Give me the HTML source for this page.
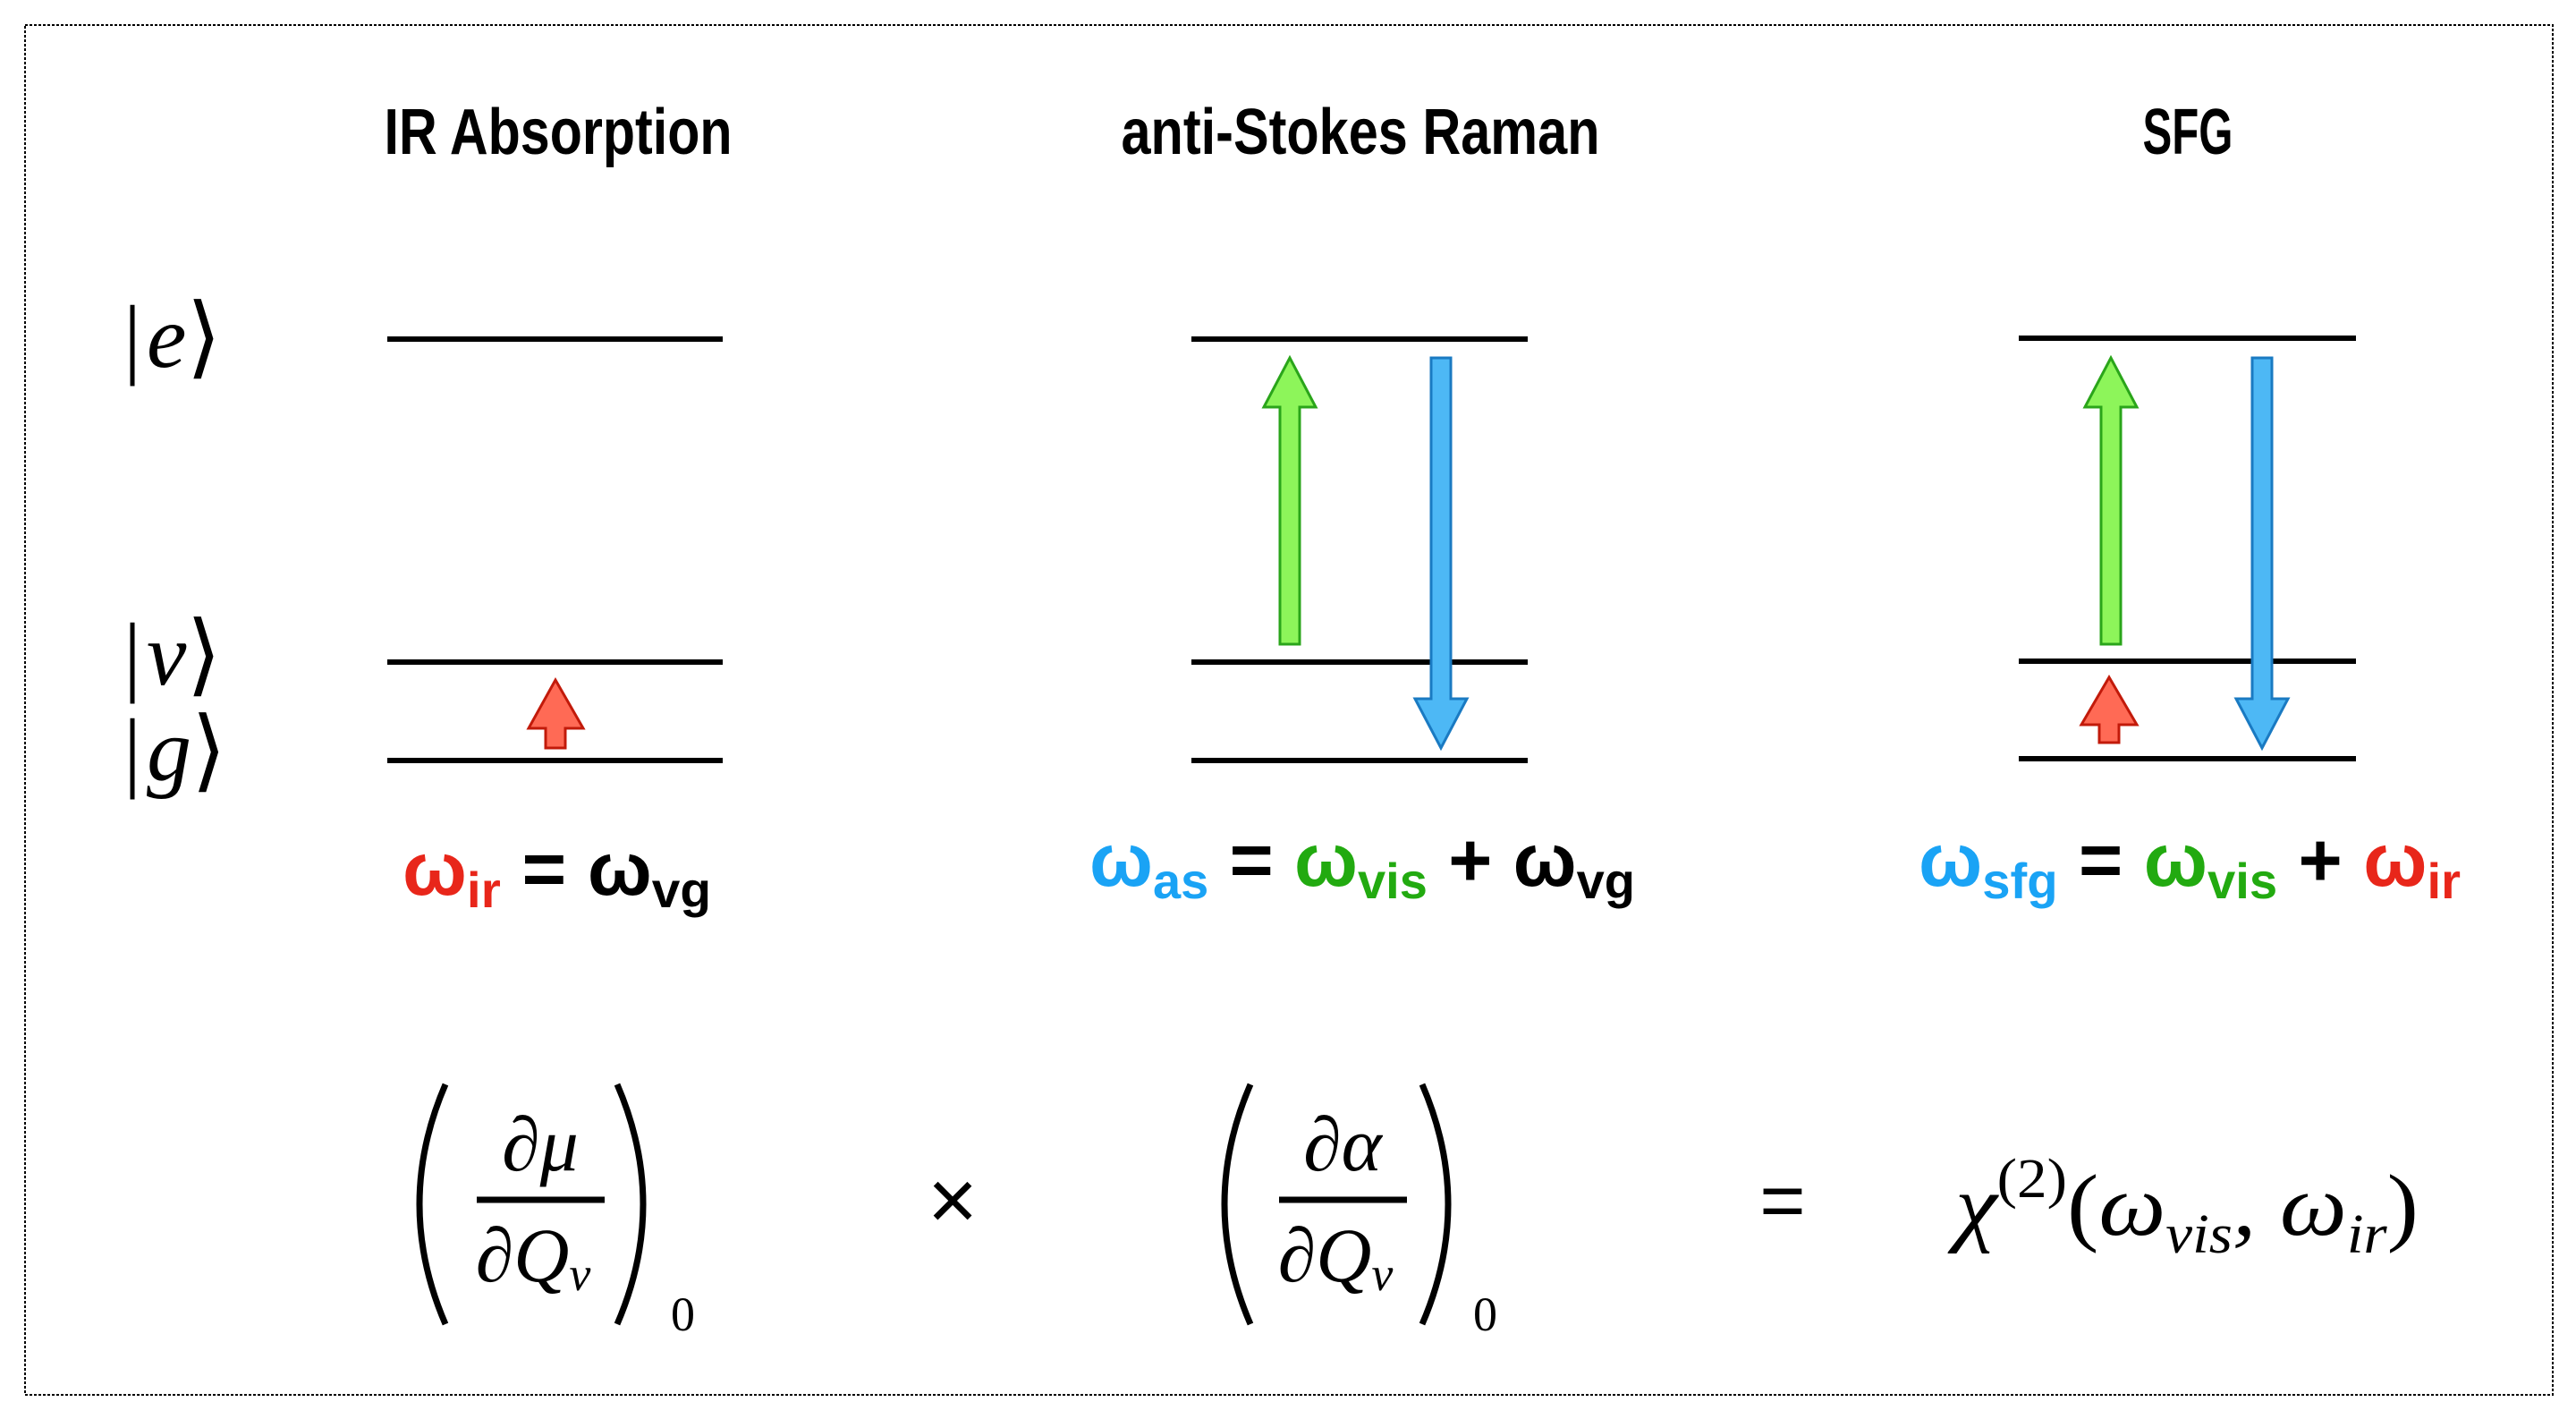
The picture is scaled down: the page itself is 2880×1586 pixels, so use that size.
<!DOCTYPE html>
<html><head><meta charset="utf-8"><style>
html,body{margin:0;padding:0;background:#fff}
svg{display:block}
.t{font-family:"Liberation Sans",sans-serif;font-weight:bold;font-size:72px;text-anchor:middle}
.m{font-family:"Liberation Serif",serif;font-style:italic}
.w{font-family:"Liberation Sans",sans-serif;font-weight:bold}
</style></head><body>
<svg width="2880" height="1586" viewBox="0 0 2880 1586" xmlns="http://www.w3.org/2000/svg">
<rect x="28" y="28" width="2826" height="1531" fill="none" stroke="#000" stroke-width="2" stroke-dasharray="3,2"/>
<text class="t" x="624" y="172" textLength="389" lengthAdjust="spacingAndGlyphs">IR Absorption</text>
<text class="t" x="1521" y="172" textLength="535" lengthAdjust="spacingAndGlyphs">anti-Stokes Raman</text>
<text class="t" x="2446" y="172" textLength="101" lengthAdjust="spacingAndGlyphs">SFG</text>
<g stroke="#000" stroke-width="6">
<line x1="433" y1="379" x2="808" y2="379"/><line x1="433" y1="740" x2="808" y2="740"/><line x1="433" y1="850" x2="808" y2="850"/>
<line x1="1332" y1="379" x2="1708" y2="379"/><line x1="1332" y1="740" x2="1708" y2="740"/><line x1="1332" y1="850" x2="1708" y2="850"/>
<line x1="2257" y1="378" x2="2634" y2="378"/><line x1="2257" y1="739" x2="2634" y2="739"/><line x1="2257" y1="848" x2="2634" y2="848"/>
</g>
<g font-family="Liberation Serif,serif" font-size="100">
<text x="138" y="410">|<tspan font-style="italic" dx="6">e</tspan>⟩</text>
<text x="138" y="765">|<tspan font-style="italic" dx="6">v</tspan>⟩</text>
<text x="138" y="872">|<tspan font-style="italic" dx="6">g</tspan>⟩</text>
</g>
<g stroke-width="3">
<polygon fill="#ff6a55" stroke="#c21a0a" points="621,760 652,814 632,814 632,836 610,836 610,814 591,814"/>
<polygon fill="#ff6a55" stroke="#c21a0a" points="2358,757 2389,810 2369,810 2369,830 2347,830 2347,810 2327,810"/>
<polygon fill="#8df55a" stroke="#2aa51a" points="1442,400 1471,455 1453,455 1453,720 1431,720 1431,455 1413,455"/>
<polygon fill="#8df55a" stroke="#2aa51a" points="2360,400 2389,455 2371,455 2371,720 2349,720 2349,455 2331,455"/>
<polygon fill="#4db8f5" stroke="#1a7ac2" points="1600,400 1622,400 1622,781 1640,781 1611,836 1582,781 1600,781"/>
<polygon fill="#4db8f5" stroke="#1a7ac2" points="2518,400 2540,400 2540,781 2558,781 2529,836 2500,781 2518,781"/>
</g>
<g class="w" font-size="84">
<text x="450" y="1000" textLength="345" lengthAdjust="spacingAndGlyphs"><tspan fill="#e8261a">ω<tspan font-size="56" dy="14">ir</tspan></tspan><tspan dy="-14"> = ω</tspan><tspan font-size="56" dy="14">vg</tspan></text>
<text x="1218" y="990" textLength="610" lengthAdjust="spacingAndGlyphs"><tspan fill="#1aa3f5">ω<tspan font-size="56" dy="14">as</tspan></tspan><tspan dy="-14"> = </tspan><tspan fill="#22aa10">ω<tspan font-size="56" dy="14">vis</tspan></tspan><tspan dy="-14"> + ω</tspan><tspan font-size="56" dy="14">vg</tspan></text>
<text x="2145" y="990" textLength="606" lengthAdjust="spacingAndGlyphs"><tspan fill="#1aa3f5">ω<tspan font-size="56" dy="14">sfg</tspan></tspan><tspan dy="-14"> = </tspan><tspan fill="#22aa10">ω<tspan font-size="56" dy="14">vis</tspan></tspan><tspan dy="-14"> + </tspan><tspan fill="#e8261a">ω<tspan font-size="56" dy="14">ir</tspan></tspan></text>
</g>
<g fill="none" stroke="#000" stroke-width="7">
<path d="M498,1212 Q440,1346 498,1480"/><path d="M690,1212 Q748,1346 690,1480"/>
<path d="M1398,1212 Q1340,1346 1398,1480"/><path d="M1590,1212 Q1648,1346 1590,1480"/>
<line x1="533" y1="1341" x2="676" y2="1341"/><line x1="1430" y1="1341" x2="1573" y2="1341"/>
</g>
<g class="m" font-size="86" text-anchor="middle">
<text x="604" y="1308">∂μ</text>
<text x="596" y="1432">∂Q<tspan font-size="54" dy="10">v</tspan></text>
<text x="1501" y="1308">∂α</text>
<text x="1493" y="1432">∂Q<tspan font-size="54" dy="10">v</tspan></text>
</g>
<g font-family="Liberation Serif,serif" font-size="54">
<text x="750" y="1487">0</text><text x="1647" y="1487">0</text>
</g>
<text x="1065" y="1374" font-family="Liberation Sans,sans-serif" font-size="96" text-anchor="middle">×</text>
<text x="1993" y="1372" font-family="Liberation Sans,sans-serif" font-size="88" text-anchor="middle">=</text>
<text x="2186" y="1380" class="m" font-size="98" textLength="518" lengthAdjust="spacingAndGlyphs">χ<tspan font-style="normal" font-size="62" dy="-42">(2)</tspan><tspan font-style="normal" dy="42">(</tspan>ω<tspan font-size="62" dy="20">vis</tspan><tspan dy="-20">, ω</tspan><tspan font-size="62" dy="20">ir</tspan><tspan font-style="normal" dy="-20">)</tspan></text>
</svg>
</body></html>
